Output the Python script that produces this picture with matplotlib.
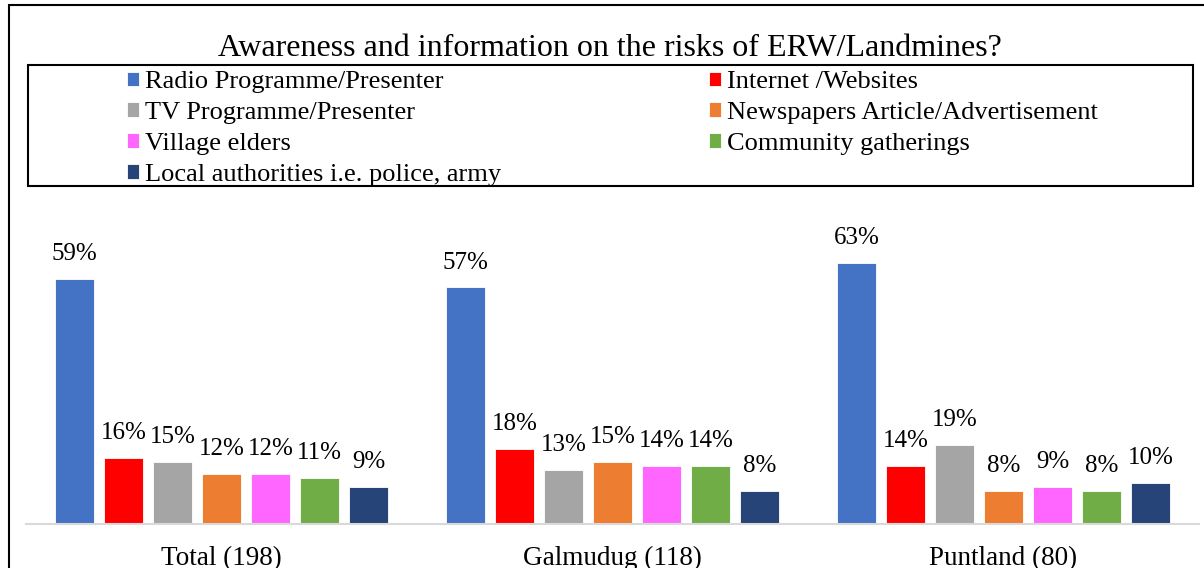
import matplotlib.pyplot as plt
from matplotlib.patches import Rectangle
import numpy as np

# data
groups = ['Total (198)', 'Galmudug (118)', 'Puntland (80)']
series = ['Radio Programme/Presenter', 'Internet /Websites', 'TV Programme/Presenter',
          'Newspapers Article/Advertisement', 'Village elders', 'Community gatherings',
          'Local authorities i.e. police, army']
radio = [59, 57, 63]
internet = [16, 18, 14]
tv = [15, 13, 19]
newspapers = [12, 15, 8]
elders = [12, 14, 9]
community = [11, 14, 8]
authorities = [9, 8, 10]

values = [radio, internet, tv, newspapers, elders, community, authorities]
colors = ['#4472C4', '#FF0000', '#A5A5A5', '#ED7D31', '#FF66FF', '#70AD47', '#264478']

plt.rcParams['font.family'] = ['Liberation Serif', 'DejaVu Serif']

W, H = 1204, 568
fig = plt.figure(figsize=(W / 100, H / 100), dpi=100)

ax = fig.add_axes([26 / W, 1 - 524 / H, 1173 / W, 290.5 / H])

x = np.arange(len(groups))
step = 0.1253
width = 0.0997
handles = []
for i, (vals, col) in enumerate(zip(values, colors)):
    pos = x + (i - 3) * step
    bars = ax.bar(pos, vals, width, color=col, edgecolor='white', linewidth=0.6,
                  label=series[i], zorder=2)
    handles.append(bars)
    for xp, v in zip(pos, vals):
        ax.text(xp, v + 6.0, f'{v}%', ha='center', va='center', fontsize=18,
                clip_on=False)

ax.set_xlim(-0.5, 2.5)
ax.set_ylim(0, 70)
ax.set_yticks([])
ax.set_xticks(x)
ax.set_xticklabels(groups, fontsize=19.5)
ax.tick_params(axis='x', length=0, pad=16)
for s in ['top', 'right', 'left']:
    ax.spines[s].set_visible(False)
ax.spines['bottom'].set_color('#D9D9D9')
ax.spines['bottom'].set_linewidth(1.5)
ax.patch.set_alpha(0)

fig.text(610 / W, 1 - 49 / H, 'Awareness and information on the risks of ERW/Landmines?',
         ha='center', va='center', fontsize=23)

# legend: two columns in one frame
leg_kw = dict(frameon=False, fontsize=19, handlelength=0.45, handleheight=0.45,
              handletextpad=0.25, labelspacing=0.34, borderpad=0, borderaxespad=0)
col1 = [handles[0], handles[2], handles[4], handles[6]]
col2 = [handles[1], handles[3], handles[5]]
fig.legend(col1, [h.get_label() for h in col1], loc='upper left',
           bbox_to_anchor=(127 / W, 1 - 71 / H), **leg_kw)
fig.legend(col2, [h.get_label() for h in col2], loc='upper left',
           bbox_to_anchor=(709 / W, 1 - 71 / H), **leg_kw)

fig.add_artist(Rectangle((28 / W, 1 - 186 / H), (1193 - 28) / W, (186 - 65) / H,
                         transform=fig.transFigure, fill=False, edgecolor='black',
                         linewidth=1.5))
# outer frame
fig.add_artist(Rectangle((9 / W, -0.2), 1.2, 1.2 - 5 / H,
                         transform=fig.transFigure, fill=False, edgecolor='black',
                         linewidth=1.5))

fig.savefig('out.png', dpi=100)
